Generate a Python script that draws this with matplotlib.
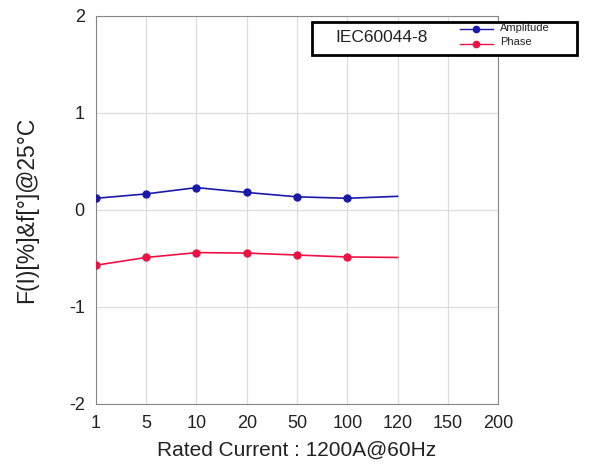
import numpy as np
import matplotlib
matplotlib.use('Agg')
import matplotlib.pyplot as plt
from matplotlib.patches import Rectangle
from matplotlib.lines import Line2D

plt.rcParams['font.family'] = ['Liberation Sans', 'DejaVu Sans']
plt.rcParams['axes.unicode_minus'] = False

x_labels = ['1', '5', '10', '20', '50', '100', '120', '150', '200']
amplitude = [0.12, 0.165, 0.23, 0.18, 0.135, 0.12, 0.14]
phase = [-0.57, -0.49, -0.44, -0.445, -0.465, -0.485, -0.49]

x_pos = np.arange(len(x_labels))
n = len(amplitude)

fig = plt.figure(figsize=(6.15, 4.67), dpi=100)
ax = fig.add_axes([0.156, 0.135, 0.654, 0.831])

blue = '#1a1aaa'
red = '#ee1144'
ax.plot(x_pos[:n], amplitude, color=blue, lw=1.2, marker='o', ms=5,
        markevery=list(range(n - 1)), zorder=3)
ax.plot(x_pos[:n], phase, color=red, lw=1.2, marker='o', ms=5,
        markevery=list(range(n - 1)), zorder=3)

ax.set_xlim(0, len(x_labels) - 1)
ax.set_ylim(-2, 2)
ax.set_xticks(x_pos)
ax.set_xticklabels(x_labels)
ax.set_yticks([-2, -1, 0, 1, 2])
ax.tick_params(length=0, labelsize=13, pad=8, colors='#222222')
ax.grid(True, color='#dddddd', lw=0.9)
for s in ax.spines.values():
    s.set_color('#888888')

ax.set_xlabel('Rated Current : 1200A@60Hz', fontsize=15, color='#222222', labelpad=6)
ax.set_ylabel('F(I)[%]&f[°]@25°C', fontsize=16.5, color='#222222', labelpad=22)

# legend box
ax.add_patch(Rectangle((0.536, 0.898), 0.659, 0.085, transform=ax.transAxes,
                       facecolor='white', edgecolor='black', lw=2, zorder=5,
                       clip_on=False))
ax.text(0.71, 0.943, 'IEC60044-8', transform=ax.transAxes, fontsize=12.5,
        ha='center', va='center', color='#222222', zorder=6)
for yy, col, lab in [(0.966, blue, 'Amplitude'), (0.928, red, 'Phase')]:
    ax.add_line(Line2D([0.905, 0.988], [yy, yy], transform=ax.transAxes,
                       color=col, lw=1, zorder=6, clip_on=False))
    ax.add_line(Line2D([0.945], [yy], transform=ax.transAxes, color=col,
                       marker='o', ms=4.5, zorder=6, clip_on=False))
    ax.text(1.005, yy + 0.004, lab, transform=ax.transAxes, fontsize=8,
            ha='left', va='center', color='#222222', zorder=6)

fig.savefig('out.png', dpi=100)
